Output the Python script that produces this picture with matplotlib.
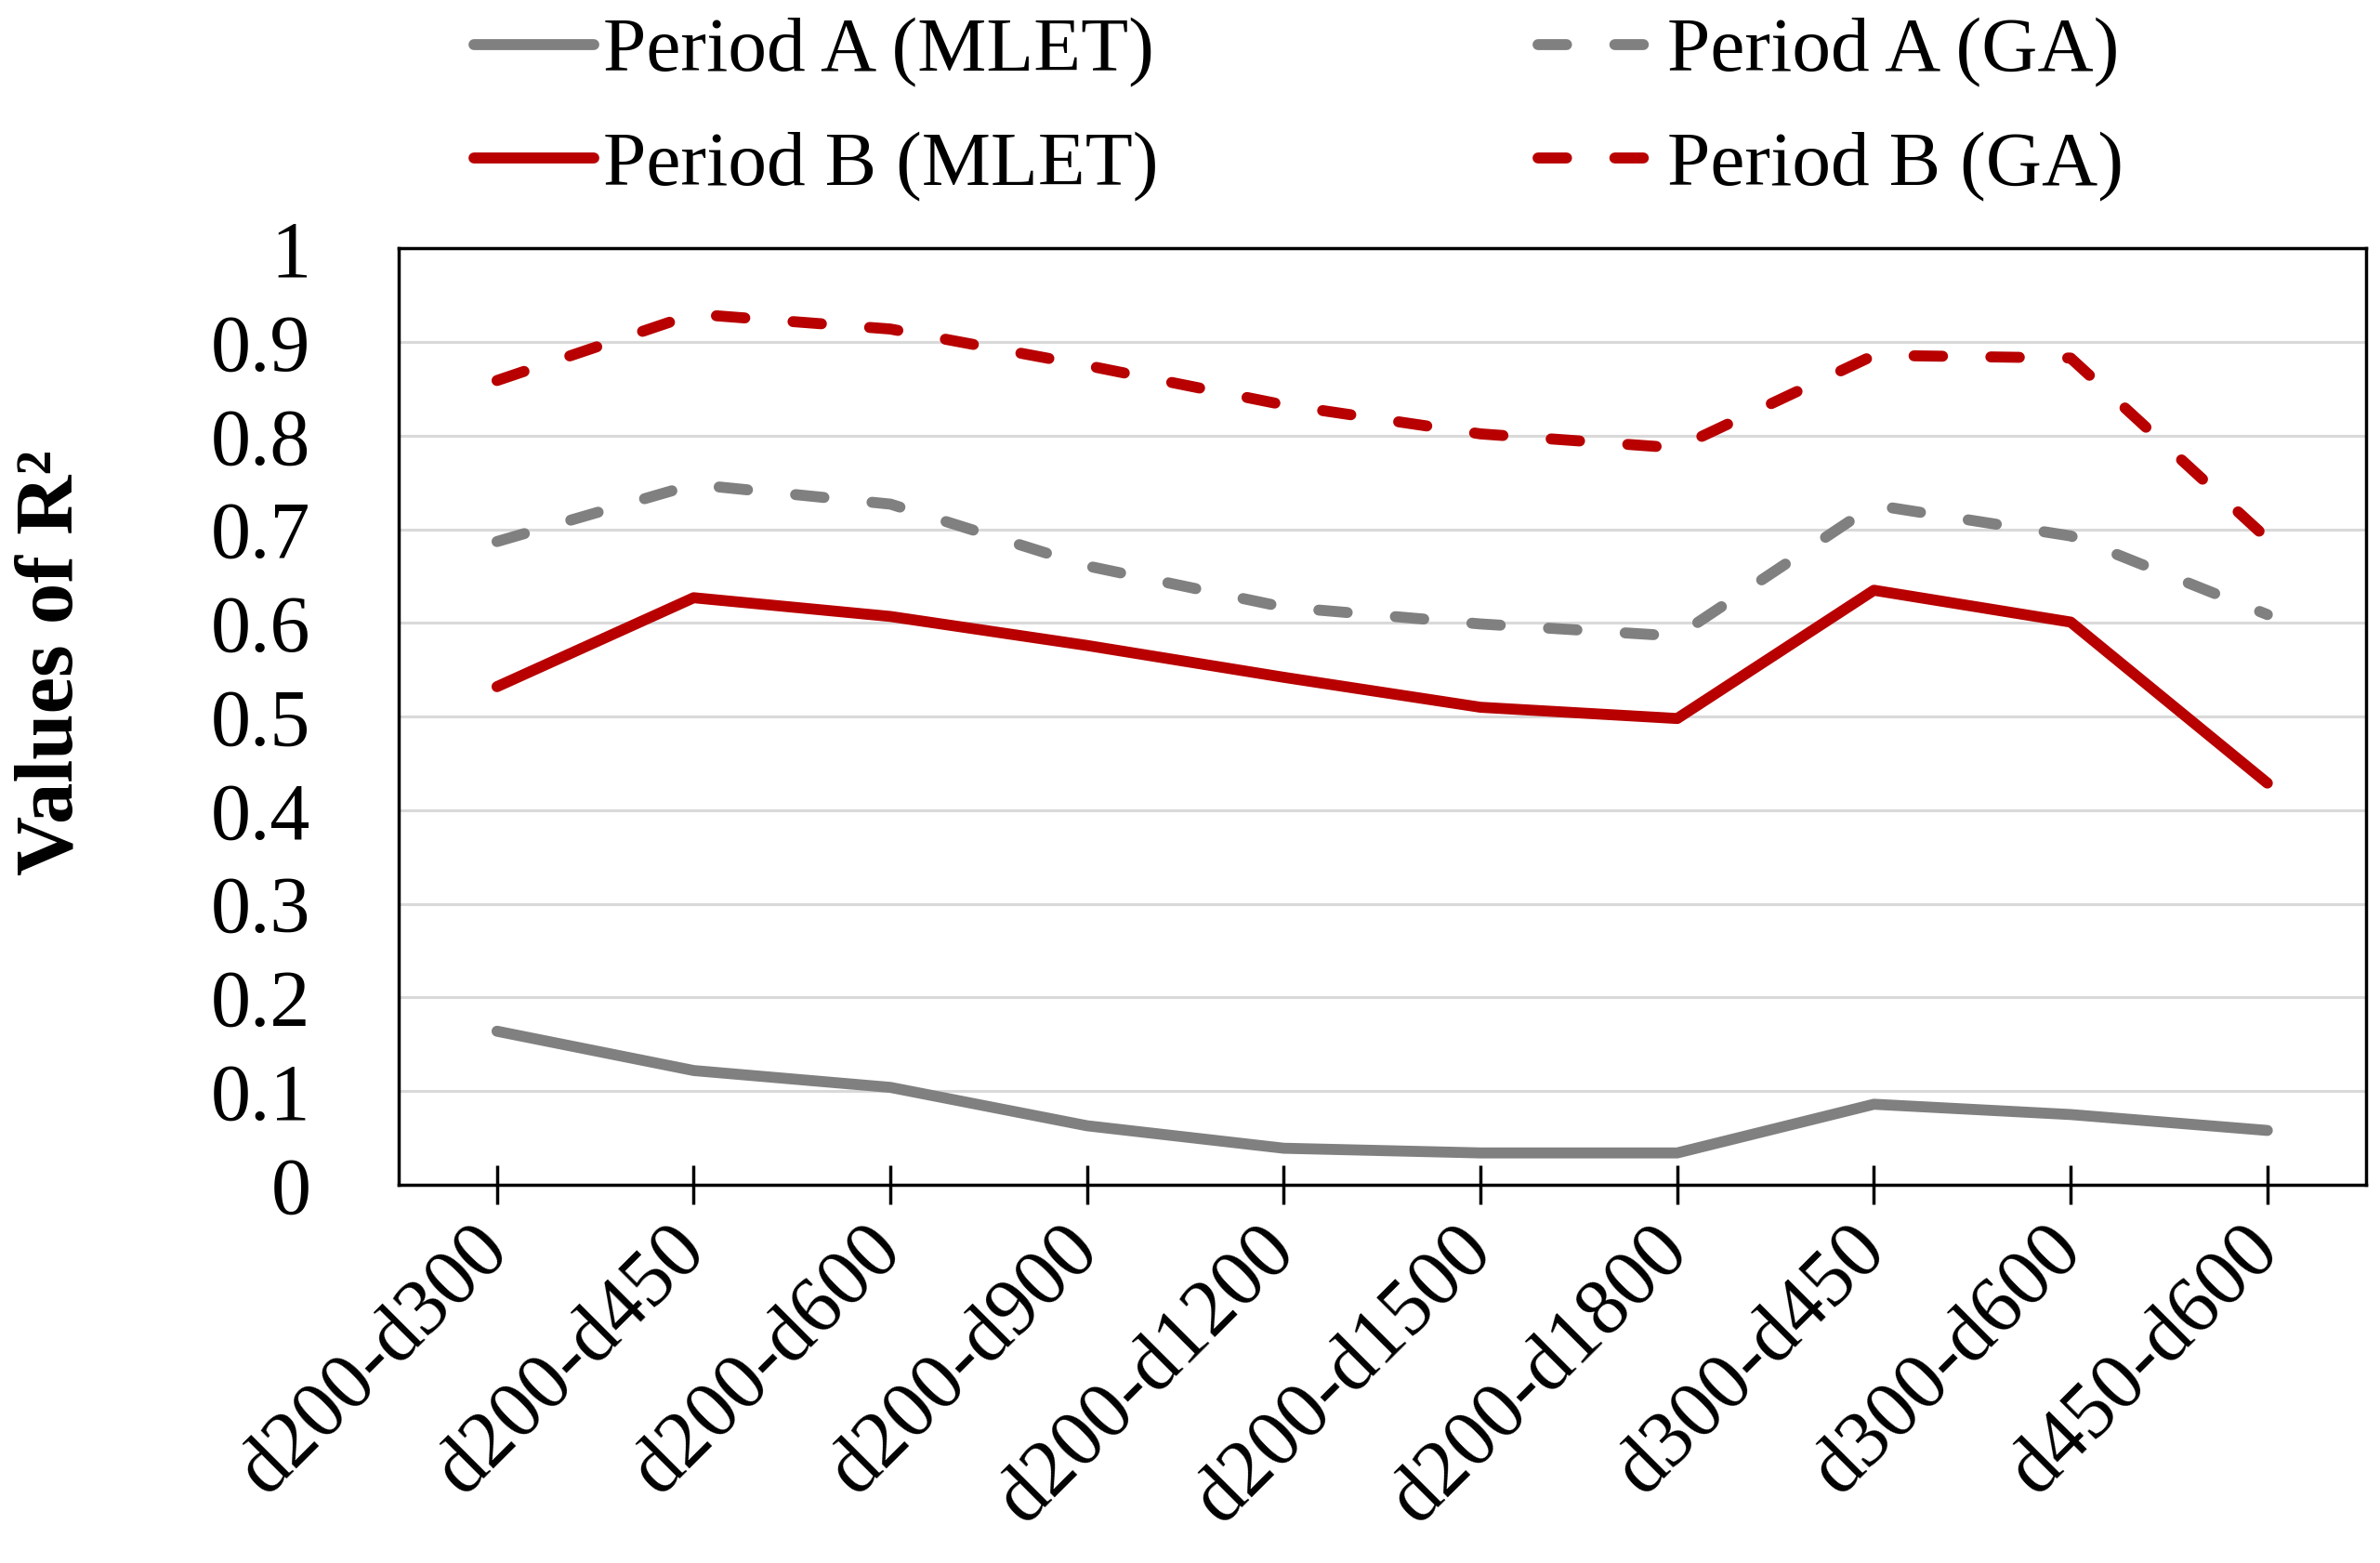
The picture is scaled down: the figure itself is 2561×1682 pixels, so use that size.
import numpy as np
import matplotlib.pyplot as plt

# categories (distance pairs)
pairs = ["d200-d300", "d200-d450", "d200-d600", "d200-d900", "d200-d1200",
         "d200-d1500", "d200-d1800", "d300-d450", "d300-d600", "d450-d600"]

# R2 values
a_mlet = [0.164, 0.122, 0.104, 0.063, 0.039, 0.034, 0.034, 0.086, 0.075, 0.058]
a_ga = [0.687, 0.748, 0.727, 0.661, 0.617, 0.599, 0.586, 0.726, 0.693, 0.609]
b_mlet = [0.532, 0.627, 0.607, 0.576, 0.542, 0.510, 0.498, 0.635, 0.601, 0.429]
b_ga = [0.859, 0.930, 0.914, 0.875, 0.833, 0.802, 0.787, 0.886, 0.883, 0.690]

y_ticks = [0, 0.1, 0.2, 0.3, 0.4, 0.5, 0.6, 0.7, 0.8, 0.9, 1]
y_tick_labels = ["0", "0.1", "0.2", "0.3", "0.4", "0.5", "0.6", "0.7", "0.8", "0.9", "1"]

grey = "#808080"
red = "#B80000"

plt.rcParams['font.family'] = ['Liberation Serif', 'DejaVu Serif']

fig = plt.figure(figsize=(25.61, 16.82), dpi=100)
ax = fig.add_axes([0.1675, 0.242, 0.8265, 0.599])

x = np.arange(len(pairs))
lw = 8.5
dash = (2.6, 4.4)
line_a, = ax.plot(x, a_mlet, color=grey, lw=lw, solid_capstyle='round', solid_joinstyle='round',
                  label="Period A (MLET)", zorder=3)
line_b, = ax.plot(x, b_mlet, color=red, lw=lw, solid_capstyle='round', solid_joinstyle='round',
                  label="Period B (MLET)", zorder=3)
line_c, = ax.plot(x, a_ga, color=grey, lw=lw, dashes=dash, dash_capstyle='round',
                  label="Period A (GA)", zorder=3)
line_d, = ax.plot(x, b_ga, color=red, lw=lw, dashes=dash, dash_capstyle='round',
                  label="Period B (GA)", zorder=3)

ax.set_xlim(-0.5, len(pairs) - 0.5)
ax.set_ylim(0, 1)
ax.set_yticks(y_ticks)
ax.set_yticklabels(y_tick_labels)
ax.set_xticks(x)
ax.set_xticklabels(pairs, rotation=45, ha='right', va='center', rotation_mode='anchor')

ax.yaxis.grid(True, color="#d9d9d9", lw=2.2, zorder=0)
ax.set_axisbelow(True)

ax.tick_params(axis='y', length=0, pad=68, labelsize=62)
ax.tick_params(axis='x', direction='inout', length=30, width=2.5, color='black', pad=26, labelsize=62)

for s in ax.spines.values():
    s.set_linewidth(2.5)
    s.set_color('black')

ax.set_ylabel("Values of R²", fontsize=64, fontweight='bold', va='center')
ax.yaxis.set_label_coords(-0.176, 0.558)

fig.legend(handles=[line_a, line_b, line_c, line_d], ncol=2, loc='center',
           bbox_to_anchor=(0.5456, 0.9300), frameon=False, fontsize=60,
           handlelength=1.55, handletextpad=0.12, columnspacing=4.9,
           labelspacing=0.55, borderpad=0)

fig.savefig("out.png", dpi=100)
